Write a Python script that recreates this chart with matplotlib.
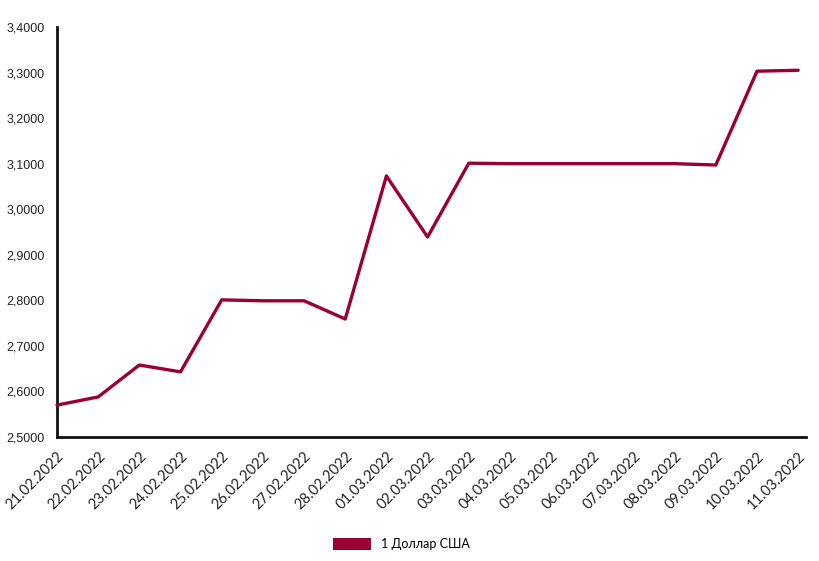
import matplotlib
matplotlib.use("Agg")
import matplotlib.pyplot as plt
from matplotlib.patches import Patch

dates = ["21.02.2022", "22.02.2022", "23.02.2022", "24.02.2022", "25.02.2022",
         "26.02.2022", "27.02.2022", "28.02.2022", "01.03.2022", "02.03.2022",
         "03.03.2022", "04.03.2022", "05.03.2022", "06.03.2022", "07.03.2022",
         "08.03.2022", "09.03.2022", "10.03.2022", "11.03.2022"]
usd = [2.570, 2.588, 2.658, 2.643, 2.801, 2.799, 2.799, 2.759, 3.073, 2.939,
       3.101, 3.100, 3.100, 3.100, 3.100, 3.100, 3.097, 3.303, 3.305]
yticks = [2.5, 2.6, 2.7, 2.8, 2.9, 3.0, 3.1, 3.2, 3.3, 3.4]
series_name = "1 Доллар США"
color = "#9B0034"

fig = plt.figure(figsize=(8.19, 5.61), dpi=100)
ax = fig.add_axes([57/819, 1-437/561, (806-57)/819, (437-27)/561])

x = list(range(len(dates)))
ax.plot(x, usd, color=color, lw=2.4, solid_joinstyle="round", solid_capstyle="round",
        clip_on=False, zorder=3)

ax.set_xlim(0, 18.19)
ax.set_ylim(2.5, 3.4)
ax.set_yticks(yticks)
ax.set_yticklabels([f"{v:.4f}".replace(".", ",") for v in yticks],
                   fontfamily="Liberation Sans", fontsize=9, color="#222222")
ax.set_xticks(x)
ax.set_xticklabels(dates, rotation=45, ha="right", va="top", rotation_mode="anchor",
                   fontfamily="Lato", fontsize=10.5, color="#222222")
ax.tick_params(axis="both", length=0)
ax.tick_params(axis="y", pad=9)
ax.tick_params(axis="x", pad=9)
for s in ["top", "right"]:
    ax.spines[s].set_visible(False)
for s in ["left", "bottom"]:
    ax.spines[s].set_linewidth(2)
    ax.spines[s].set_color("#111111")

handle = Patch(facecolor=color, edgecolor="none")
fig.legend([handle], [series_name], loc="center", bbox_to_anchor=(0.49, 0.03),
           frameon=False, handlelength=3.0, handleheight=1.1,
           prop={"family": "Lato", "size": 9})

fig.savefig("out.png", dpi=100)
